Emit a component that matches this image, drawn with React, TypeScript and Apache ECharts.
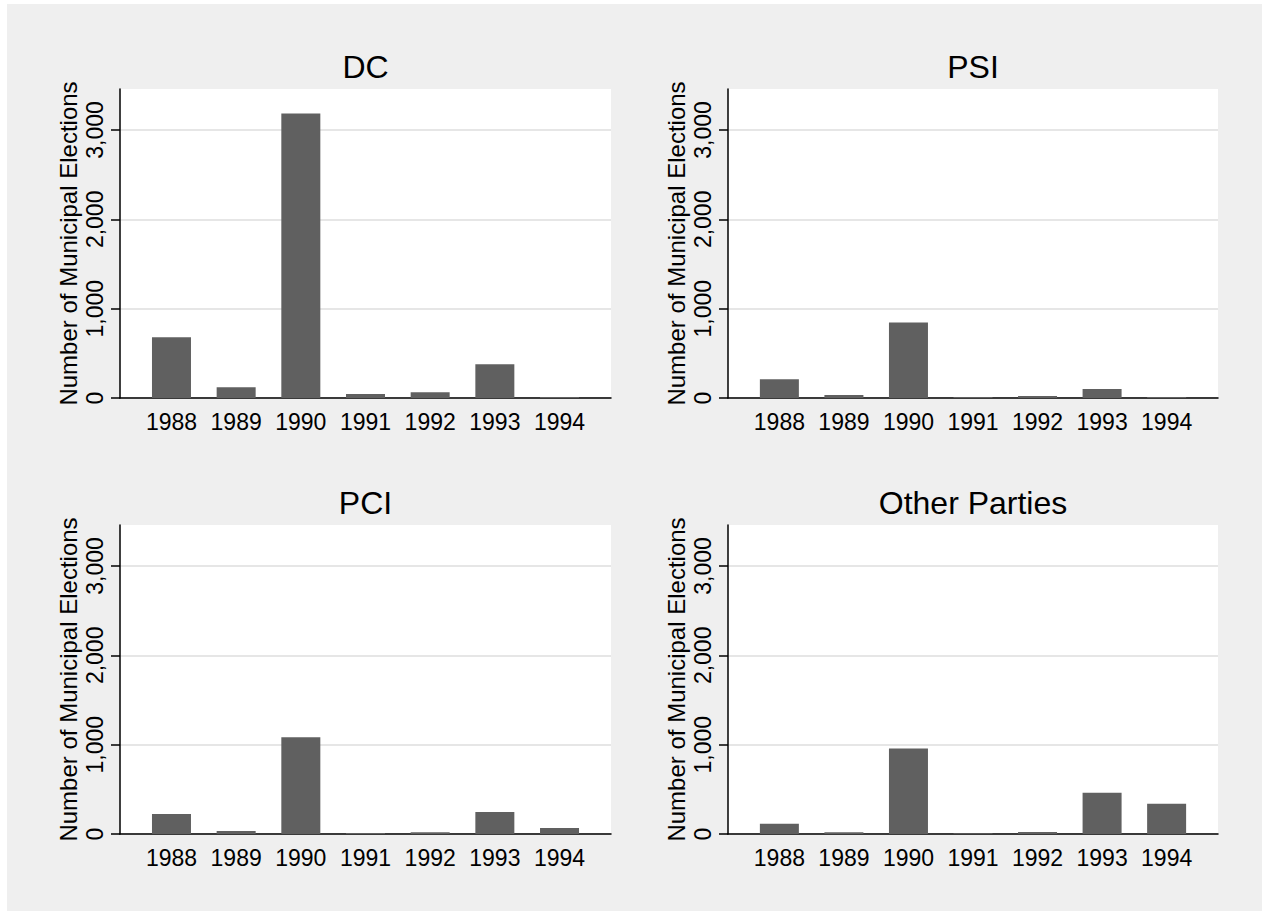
import React, { useEffect, useRef } from "react";
import * as echarts from "echarts";

const years = [1988, 1989, 1990, 1991, 1992, 1993, 1994];
const dcValues = [679, 119, 3184, 45, 63, 377, 11];
const psiValues = [209, 34, 844, 10, 22, 101, 10];
const pciValues = [224, 34, 1083, 10, 19, 246, 67];
const otherValues = [116, 19, 956, 8, 22, 463, 340];
const yTicks = [0, 1000, 2000, 3000];
const panelTitles = ["DC", "PSI", "PCI", "Other Parties"];
const yAxisTitle = "Number of Municipal Elections";

const FONT = "'Liberation Sans', Arial, sans-serif";

export default function App() {
  const ref = useRef<HTMLDivElement>(null);
  useEffect(() => {
    if (!ref.current) return;
    const chart = echarts.init(ref.current, null, { renderer: "svg" });
    const seriesData = [dcValues, psiValues, pciValues, otherValues];
    const grids = [
      { left: 120, top: 89, width: 491, height: 309 },
      { left: 728, top: 89, width: 490, height: 309 },
      { left: 120, top: 525, width: 491, height: 309 },
      { left: 728, top: 525, width: 490, height: 309 },
    ];
    const option: any = {
      animation: false,
      backgroundColor: "#ffffff",
      graphic: [
        {
          type: "rect",
          z: -10,
          silent: true,
          shape: { x: 7, y: 4, width: 1255, height: 907 },
          style: { fill: "#efefef" },
        },
        ...grids.map((g, i) => ({
          type: "text",
          x: g.left + g.width / 2,
          y: g.top - 22,
          style: {
            text: panelTitles[i],
            fill: "#000",
            font: `32px ${FONT}`,
            textAlign: "center",
            textVerticalAlign: "middle",
          },
        })),
      ],
      grid: grids.map((g) => ({
        ...g,
        show: true,
        backgroundColor: "#ffffff",
        borderWidth: 0,
      })),
      xAxis: grids.map((_, i) => ({
        type: "value",
        gridIndex: i,
        min: 1987.204,
        max: 1994.796,
        axisLine: { show: true, onZero: false, lineStyle: { color: "#000", width: 1.5 } },
        axisTick: { show: false, customValues: years },
        splitLine: { show: false },
        axisLabel: {
          customValues: years,
          formatter: (v: number) => String(Math.round(v)),
          color: "#000",
          fontSize: 23,
          fontFamily: FONT,
          margin: 12,
        },
      })),
      yAxis: grids.map((_, i) => ({
        type: "value",
        gridIndex: i,
        min: 0,
        max: 3459,
        name: yAxisTitle,
        nameLocation: "middle",
        nameRotate: 90,
        nameGap: 40,
        nameTextStyle: { color: "#000", fontSize: 24, fontFamily: FONT },
        axisLine: { show: true, onZero: false, lineStyle: { color: "#000", width: 1.5 } },
        axisTick: {
          show: true,
          customValues: yTicks,
          length: 9,
          lineStyle: { color: "#000", width: 1.5 },
        },
        splitLine: { show: true, lineStyle: { color: "#e6e6e6", width: 2 } },
        axisLabel: {
          customValues: yTicks,
          rotate: 90,
          formatter: (v: number) => v.toLocaleString("en-US"),
          color: "#000",
          fontSize: 23,
          fontFamily: FONT,
          margin: 14,
        },
      })),
      series: seriesData.map((vals, i) => ({
        type: "bar",
        xAxisIndex: i,
        yAxisIndex: i,
        barWidth: 39,
        data: years.map((y, j) => [y, vals[j]]),
        itemStyle: { color: "#606060" },
      })),
    };
    chart.setOption(option);
    return () => chart.dispose();
  }, []);
  return (
    <div
      ref={ref}
      style={{ position: "absolute", left: 0, top: 0, width: 1262, height: 913 }}
    />
  );
}
